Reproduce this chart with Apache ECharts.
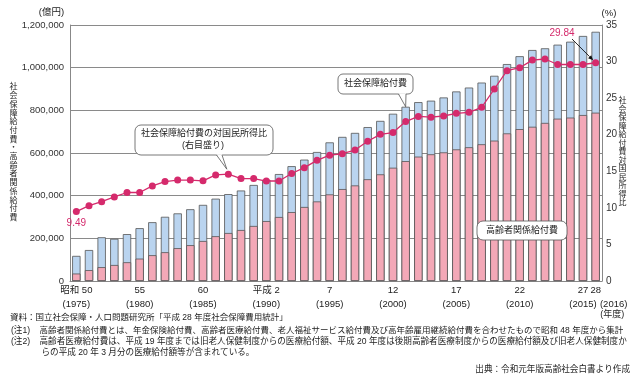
<!DOCTYPE html>
<html><head><meta charset="utf-8">
<script src="https://cdn.jsdelivr.net/npm/echarts@6/dist/echarts.min.js"></script>
<style>html,body{margin:0;padding:0;background:#fff}#main{width:640px;height:381px}</style>
</head><body><div id="main"></div>
<script>
const categories = ['1975','1976','1977','1978','1979','1980','1981','1982','1983','1984','1985','1986','1987','1988','1989','1990','1991','1992','1993','1994','1995','1996','1997','1998','1999','2000','2001','2002','2003','2004','2005','2006','2007','2008','2009','2010','2011','2012','2013','2014','2015','2016'];
// 社会保障給付費 (億円)
const socialSecurity = [117693,145165,205000,197763,219832,247736,275638,300973,317000,336396,356798,385918,407337,424174,450119,474238,501346,538280,568974,604727,649842,675475,694187,721411,750417,783985,816731,838402,845260,860278,888529,906727,930116,961880,1016907,1053647,1082711,1090778,1107796,1121734,1148596,1168144];
// 高齢者関係給付費 (億円)
const elderly = [35000,51000,65000,75000,88000,105000,121000,135000,154000,168000,187500,210000,225000,239000,258000,281000,300000,323000,347000,373000,406000,431000,448000,477000,500000,531000,562000,583000,594000,603000,617000,627000,641000,658000,692000,712000,723000,741000,761000,766000,778000,789000];
// 社会保障給付費の対国民所得比 (%)
const ratio = [9.49,10.3,10.85,11.5,12.1,12.1,13.0,13.6,13.8,13.8,13.7,14.5,14.6,14.0,14.0,13.67,13.67,14.7,15.5,16.5,17.2,17.4,17.9,19.1,20.05,20.3,21.8,22.5,22.4,22.56,22.92,23.06,23.74,26.25,28.75,29.16,30.2,30.35,29.6,29.6,29.6,29.84];
const tickIndex = [0,5,10,15,20,25,30,35,40,41];
const tickEra = ['昭和 50','55','60','平成 2','7','12','17','22','27','28'];
const tickYear = ['(1975)','(1980)','(1985)','(1990)','(1995)','(2000)','(2005)','(2010)','(2015)','(2016)'];

const FONT = "'Liberation Sans','Noto Sans CJK JP',sans-serif";
const TXT = '#222';
const LINE_C = '#d52a6c';
const LAST = categories.length - 1;

const chart = echarts.init(document.getElementById('main'));
const labelRich = {
  a: {fontSize: 9.5, lineHeight: 14, color: TXT, fontFamily: FONT},
  b: {fontSize: 9.5, lineHeight: 14, color: TXT, fontFamily: FONT, padding: [0,0,0,36]},
  c: {fontSize: 9, lineHeight: 8, color: TXT, fontFamily: FONT, padding: [0,0,0,33]}
};
const option = {
  animation: false,
  textStyle: {fontFamily: FONT},
  grid: {left: 70, right: 38, top: 25, bottom: 100},
  xAxis: [{
    type: 'category', data: categories,
    axisLine: {show: true, lineStyle: {color: '#888', width: 1}},
    axisTick: {show: false},
    axisLabel: {
      interval: (i) => i !== LAST && tickIndex.includes(i),
      hideOverlap: false,
      margin: 2, fontSize: 9.5, color: TXT, fontFamily: FONT,
      formatter: (v, i) => {
        const k = tickIndex.indexOf(i);
        return k < 0 ? '' : '{a|' + tickEra[k] + '}\n{a|' + tickYear[k] + '}';
      },
      rich: labelRich
    }
  }, {
    type: 'category', data: categories, position: 'bottom',
    axisLine: {show: false}, axisTick: {show: false}, splitLine: {show: false},
    axisLabel: {
      interval: (i) => i === LAST,
      margin: 2, fontSize: 9.5, color: TXT, fontFamily: FONT,
      formatter: (v, i) => {
        const k = tickIndex.indexOf(i);
        return k < 0 ? '' : '{a|' + tickEra[k] + '}\n{b|' + tickYear[k] + '}\n{c|(年度)}';
      },
      rich: labelRich
    }
  }],
  yAxis: [{
    type: 'value', min: 0, max: 1200000, interval: 200000,
    axisLine: {show: true, lineStyle: {color: '#888'}},
    axisTick: {show: false},
    splitLine: {show: true, lineStyle: {color: '#8a8a8a', width: 1}},
    axisLabel: {fontSize: 9.5, color: '#333', margin: 6, fontFamily: FONT,
      formatter: v => String(v).replace(/\B(?=(\d{3})+(?!\d))/g, ',')}
  }, {
    type: 'value', min: 0, max: 35, interval: 5,
    axisLine: {show: true, lineStyle: {color: '#888'}},
    axisTick: {show: false},
    splitLine: {show: false},
    axisLabel: {fontSize: 10, color: '#333', margin: 4, fontFamily: FONT}
  }],
  series: [{
    name: '社会保障給付費', type: 'bar', data: socialSecurity,
    barWidth: '66%', barGap: '-100%',
    itemStyle: {color: '#bad4ef', borderColor: '#555', borderWidth: 0.8}
  }, {
    name: '高齢者関係給付費', type: 'bar', data: elderly,
    barWidth: '66%', barGap: '-100%',
    itemStyle: {color: '#f3a8b7', borderColor: '#555', borderWidth: 0.8}
  }, {
    name: '社会保障給付費の対国民所得比', type: 'line', yAxisIndex: 1,
    data: ratio.map((v, i) => i === 0 ? {value: v, label: {show: true, position: 'bottom', distance: 3, color: LINE_C, fontSize: 10, fontFamily: FONT, formatter: '{c}'}} : v),
    symbol: 'circle', symbolSize: 7,
    lineStyle: {color: LINE_C, width: 1.3},
    itemStyle: {color: LINE_C},
    z: 5
  }]
};
chart.setOption(option);

const pDot13 = chart.convertToPixel({seriesIndex: 2}, [12, ratio[12]]);
const pBar27 = chart.convertToPixel({seriesIndex: 0}, [26, socialSecurity[26]]);
const pLast = chart.convertToPixel({seriesIndex: 2}, [LAST, ratio[LAST]]);

function txt(x, y, text, size, extra) {
  return {type: 'text', x: x, y: y, z: 100,
    style: Object.assign({text: text, fill: TXT, fontSize: size, fontFamily: FONT, align: 'left', verticalAlign: 'middle'}, extra || {})};
}
function vertical(x, yCenter, s, step, size) {
  const chars = s.split('');
  const y0 = yCenter - (chars.length - 1) * step / 2;
  return chars.map((c, i) => txt(x, y0 + i * step, c, size, {align: 'center'}));
}

const tip1 = [pDot13[0] - 1.5, pDot13[1] - 5];
const tip2 = [pBar27[0], pBar27[1]];
const arrStart = [572, 39];
const arrEnd = [pLast[0] - 2.5, pLast[1] - 2.5];
const ang = Math.atan2(arrEnd[1] - arrStart[1], arrEnd[0] - arrStart[0]);
const ah = 5, aw = 2.2;
const ahBase = [arrEnd[0] - ah * Math.cos(ang), arrEnd[1] - ah * Math.sin(ang)];
const ahPts = [arrEnd,
  [ahBase[0] + aw * Math.sin(ang), ahBase[1] - aw * Math.cos(ang)],
  [ahBase[0] - aw * Math.sin(ang), ahBase[1] + aw * Math.cos(ang)]];

const boxStyle = {fill: '#fff', stroke: '#555', lineWidth: 0.8};
chart.setOption({graphic: [].concat(
  [
  txt(51.5, 12.7, '(億円)', 9.5, {align: 'center'}),
  txt(609, 13, '(%)', 9.5, {align: 'center'})
  ],
  vertical(13.5, 152.5, '社会保障給付費・高齢者関係給付費', 8.7, 8),
  vertical(622.5, 152, '社会保障給付費対国民所得比', 8.5, 8),
  [
  // callout 1
  {type: 'rect', z: 100, shape: {x: 135, y: 125, width: 138, height: 30, r: 6}, style: boxStyle},
  {type: 'polygon', z: 101, shape: {points: [[216.5, 154.2], [222, 154.2], tip1]}, style: {fill: '#fff'}},
  {type: 'polyline', z: 101, shape: {points: [[216.5, 155], tip1, [222, 155]]}, style: {fill: null, stroke: '#555', lineWidth: 0.8}},
  txt(204, 134, '社会保障給付費の対国民所得比', 9, {align: 'center'}),
  txt(203, 145.5, '(右目盛り)', 9, {align: 'center'}),
  // callout 2
  {type: 'rect', z: 100, shape: {x: 338, y: 74, width: 75, height: 20, r: 5}, style: boxStyle},
  {type: 'polygon', z: 101, shape: {points: [[398.5, 93.2], [406, 93.2], tip2]}, style: {fill: '#fff'}},
  {type: 'polyline', z: 101, shape: {points: [[398.5, 94], tip2, [406, 94]]}, style: {fill: null, stroke: '#555', lineWidth: 0.8}},
  txt(375.5, 84, '社会保障給付費', 9, {align: 'center'}),
  // callout 3
  {type: 'rect', z: 100, shape: {x: 477, y: 221, width: 90, height: 19, r: 6}, style: boxStyle},
  txt(522, 230.5, '高齢者関係給付費', 9, {align: 'center'}),
  // 29.84 label + arrow
  txt(562, 33.3, String(ratio[LAST]), 10, {align: 'center', fill: LINE_C}),
  {type: 'line', z: 101, shape: {x1: arrStart[0], y1: arrStart[1], x2: ahBase[0], y2: ahBase[1]}, style: {stroke: '#111', lineWidth: 0.9}},
  {type: 'polygon', z: 101, shape: {points: ahPts}, style: {fill: '#111'}},
  // notes
  txt(10, 317.7, '資料：国立社会保障・人口問題研究所「平成 28 年度社会保障費用統計」', 8.5),
  txt(11, 331, '(注1)', 8.6),
  txt(39.5, 331, '高齢者関係給付費とは、年金保険給付費、高齢者医療給付費、老人福祉サービス給付費及び高年齢雇用継続給付費を合わせたもので昭和 48 年度から集計', 8.5),
  txt(11, 341.7, '(注2)', 8.6),
  txt(39.5, 341.7, '高齢者医療給付費は、平成 19 年度までは旧老人保健制度からの医療給付額、平成 20 年度は後期高齢者医療制度からの医療給付額及び旧老人保健制度か', 8.6),
  txt(41.5, 352.7, 'らの平成 20 年 3 月分の医療給付額等が含まれている。', 8.6),
  txt(630, 370, '出典：令和元年版高齢社会白書より作成', 8.6, {align: 'right'})
  ]
)});
</script>
</body></html>
